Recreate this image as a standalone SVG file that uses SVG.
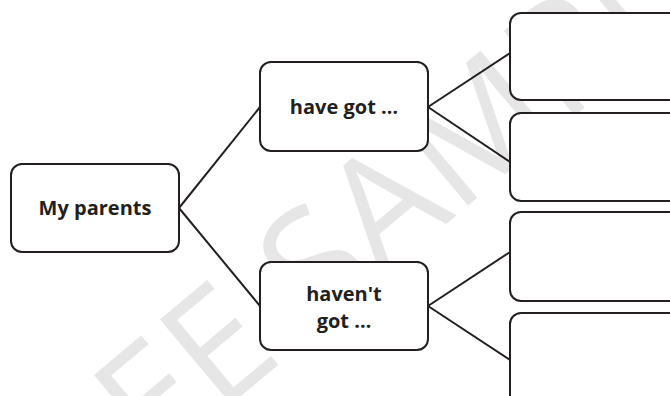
<svg xmlns="http://www.w3.org/2000/svg" width="670" height="396" viewBox="0 0 670 396">
<style>
.box{fill:#ffffff;stroke:#231f20;stroke-width:2}
.lbl{font-family:"Open Sans","Liberation Sans",sans-serif;font-weight:700;font-size:20px;fill:#231f20;text-anchor:middle}
.wm{font-family:"Open Sans","Liberation Sans",sans-serif;font-weight:400;font-size:155px;fill:#e6e6e6;text-anchor:middle}
.conn{stroke:#231f20;stroke-width:2;fill:none}
</style>
<rect width="670" height="396" fill="#ffffff"/>
<text class="wm" x="352" y="224" dominant-baseline="central" transform="rotate(-40 352 224)">FREE SAMPLE</text>
<g id="connectors">
<line class="conn" x1="179" y1="208" x2="260" y2="107"/>
<line class="conn" x1="179" y1="208" x2="260" y2="306"/>
<line class="conn" x1="428" y1="107" x2="510" y2="53"/>
<line class="conn" x1="428" y1="107" x2="510" y2="162"/>
<line class="conn" x1="428" y1="306" x2="510" y2="252"/>
<line class="conn" x1="428" y1="306" x2="510" y2="360"/>
</g>
<g id="my-parents">
<rect class="box" x="11" y="164" width="168" height="88" rx="11"/>
<text class="lbl" x="95" y="215">My parents</text>
</g>
<g id="have-got">
<rect class="box" x="260" y="62" width="168" height="89" rx="11"/>
<text class="lbl" x="344" y="114">have got …</text>
</g>
<g id="havent-got">
<rect class="box" x="260" y="262" width="168" height="88" rx="11"/>
<text class="lbl" x="344" y="301">haven't</text>
<text class="lbl" x="344" y="328">got …</text>
</g>
<g id="box1"><rect class="box" x="510" y="13" width="200" height="87" rx="11"/></g>
<g id="box2"><rect class="box" x="510" y="113" width="200" height="88" rx="11"/></g>
<g id="box3"><rect class="box" x="510" y="212" width="200" height="89" rx="11"/></g>
<g id="box4"><rect class="box" x="510" y="313" width="200" height="100" rx="11"/></g>
</svg>
